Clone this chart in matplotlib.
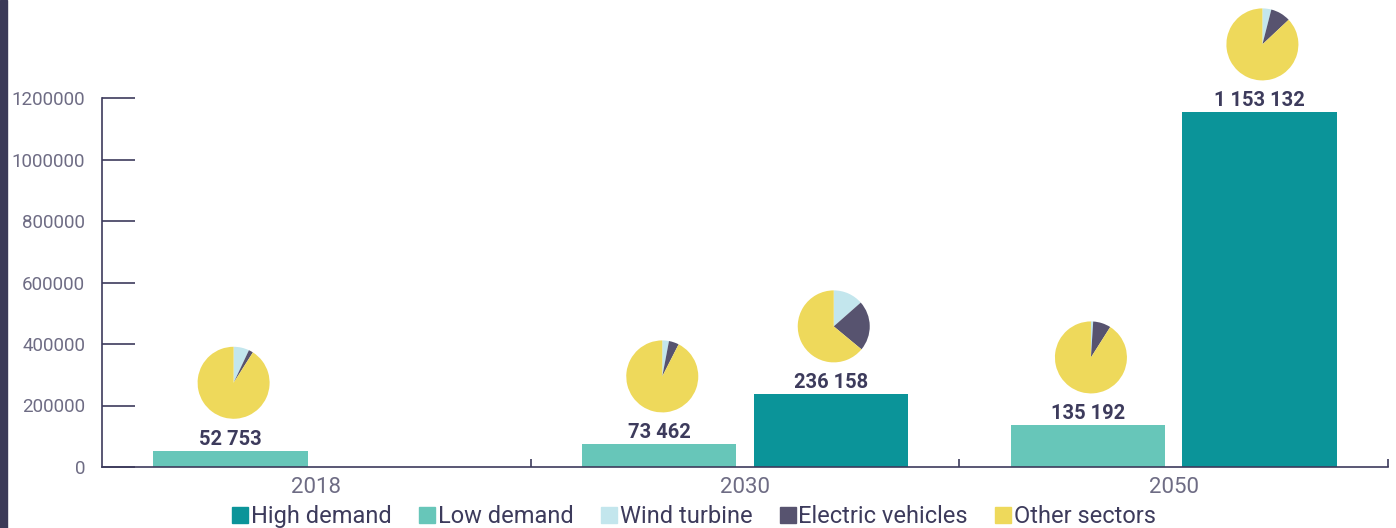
import matplotlib
matplotlib.use("Agg")
import matplotlib.pyplot as plt
from matplotlib.patches import Rectangle
from matplotlib.lines import Line2D

# data
years = ["2018", "2030", "2050"]
low_demand = [52753, 73462, 135192]
high_demand = [None, 236158, 1153132]

# pie shares: wind turbine, electric vehicles, other sectors (%)
low_pies = [[7, 2, 91], [3, 4.5, 92.5], [1, 8, 91]]
high_pies = [None, [13.5, 22.5, 64], [4, 9, 87]]

series_labels = ["High demand", "Low demand", "Wind turbine", "Electric vehicles", "Other sectors"]
y_ticks = [0, 200000, 400000, 600000, 800000, 1000000, 1200000]

# colours
c_high = "#0b9499"
c_low = "#67c6b9"
c_wind = "#c3e6ed"
c_ev = "#57536f"
c_other = "#eed95b"
c_axis = "#3d3b5c"
c_text = "#6e6c84"
c_label = "#3d3b5c"
pie_colors = [c_wind, c_ev, c_other]

plt.rcParams["font.family"] = ["Roboto", "DejaVu Sans"]

W, H = 1396, 528
fig = plt.figure(figsize=(W / 100, H / 100), dpi=100)
ax = fig.add_axes([102 / W, 61 / H, 1286 / W, 369 / H])

# dark strip on the left edge
fig.patches.append(Rectangle((0, 0), 7 / W, 1, transform=fig.transFigure,
                             color="#3a3957", zorder=0))

x = range(len(years))
bw = 0.36
off = 0.2
for i in x:
    ax.bar(i - off, low_demand[i], width=bw, color=c_low, zorder=2)
    if high_demand[i] is not None:
        ax.bar(i + off, high_demand[i], width=bw, color=c_high, zorder=2)

ax.set_xlim(-0.5, 2.5)
ax.set_ylim(0, 1200000)
ax.set_yticks(y_ticks)
ax.set_yticklabels([str(v) for v in y_ticks])
ax.set_xticks(list(x))
ax.set_xticklabels(years)
ax.set_xticks([0.5, 1.5, 2.5], minor=True)

for s in ["top", "right"]:
    ax.spines[s].set_visible(False)
for s in ["left", "bottom"]:
    ax.spines[s].set_color(c_axis)
    ax.spines[s].set_linewidth(1.2)

ax.tick_params(axis="y", direction="in", length=24, width=1.2, color=c_axis,
               labelcolor=c_text, labelsize=13.5, pad=12)
ax.tick_params(axis="x", which="major", length=0, labelcolor=c_text,
               labelsize=16, pad=7)
ax.tick_params(axis="x", which="minor", direction="in", length=6, width=1.2,
               color=c_axis)


def fmt(v):
    return f"{v:,}".replace(",", " ")


def add_pie(xc, val, shares):
    px, py = ax.transData.transform((xc, val))
    r = 36
    cx = px + 3
    cy = py + 68
    pax = fig.add_axes([(cx - r) / W, (cy - r) / H, 2 * r / W, 2 * r / H])
    pax.pie(shares, colors=pie_colors, startangle=90, counterclock=False,
            wedgeprops=dict(linewidth=0))
    pax.set_xlim(-1, 1)
    pax.set_ylim(-1, 1)
    pax.set_aspect("equal")
    pax.axis("off")


for i in x:
    ax.annotate(fmt(low_demand[i]), (i - off, low_demand[i]), xytext=(0, 1.5),
                textcoords="offset points", ha="center", va="bottom",
                fontsize=14.5, fontweight="bold", color=c_label, annotation_clip=False)
    add_pie(i - off, low_demand[i], low_pies[i])
    if high_demand[i] is not None:
        ax.annotate(fmt(high_demand[i]), (i + off, high_demand[i]), xytext=(0, 1.5),
                    textcoords="offset points", ha="center", va="bottom",
                    fontsize=14.5, fontweight="bold", color=c_label, annotation_clip=False)
        add_pie(i + off, high_demand[i], high_pies[i])

handles = [Line2D([], [], marker="s", linestyle="none", markersize=12, color=c)
           for c in [c_high, c_low, c_wind, c_ev, c_other]]
fig.legend(handles, series_labels, loc="center", bbox_to_anchor=(0.497, 0.022),
           ncol=5, frameon=False, fontsize=17, handlelength=0.7,
           handletextpad=0.1, columnspacing=1.15, labelcolor=c_axis)

fig.savefig("out.png", dpi=100)
